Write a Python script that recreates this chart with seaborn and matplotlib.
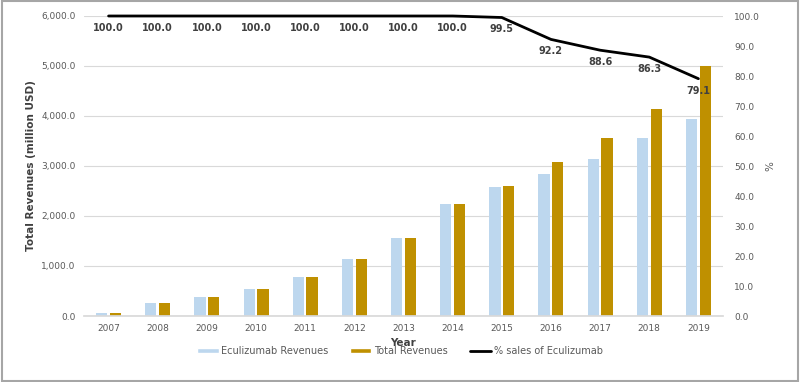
import matplotlib
matplotlib.use("Agg")
import matplotlib.pyplot as plt
from matplotlib.patches import Rectangle, Patch
from matplotlib.lines import Line2D
from matplotlib.ticker import FuncFormatter, MultipleLocator
import numpy as np
import pandas as pd
import seaborn as sns

years = ["2007", "2008", "2009", "2010", "2011", "2012", "2013",
         "2014", "2015", "2016", "2017", "2018", "2019"]
eculizumab_rev = [66, 259, 387, 541, 783, 1134, 1551, 2234, 2590, 2843, 3144, 3563, 3946]
total_rev = [66, 259, 387, 541, 783, 1134, 1551, 2234, 2604, 3084, 3551, 4131, 4991]
pct_sales = [100.0, 100.0, 100.0, 100.0, 100.0, 100.0, 100.0, 100.0, 99.5, 92.2, 88.6, 86.3, 79.1]

blue = "#BDD7EE"
gold = "#BF9000"
grey_txt = "#595959"

sns.set_theme(style="white")
plt.rcParams["font.family"] = ["DejaVu Sans"]

df = pd.DataFrame({
    "Year": years * 2,
    "Revenue": eculizumab_rev + total_rev,
    "Series": ["Eculizumab Revenues"] * len(years) + ["Total Revenues"] * len(years),
})

fig = plt.figure(figsize=(8, 3.82), dpi=100)
ax = fig.add_axes([84 / 800, 1 - 316 / 382, (723 - 84) / 800, 300 / 382])

# paired bars for the two revenue series
sns.barplot(data=df, x="Year", y="Revenue", hue="Series", saturation=1,
            palette=[blue, gold], width=0.56, gap=0.18, linewidth=0,
            ax=ax, legend=False)

ax.set_ylim(0, 6000)
ax.yaxis.set_major_locator(MultipleLocator(1000))
ax.yaxis.set_major_formatter(FuncFormatter(lambda v, p: f"{v:,.1f}"))
ax.grid(axis="y", color="#D9D9D9", linewidth=0.8)
ax.set_axisbelow(True)
for s in ["top", "right", "left"]:
    ax.spines[s].set_visible(False)
ax.spines["bottom"].set_color("#D9D9D9")
ax.tick_params(axis="both", length=0, labelsize=6.5, labelcolor=grey_txt, pad=6)
ax.set_xlabel("Year", fontsize=7.5, fontweight="bold", color="#404040", labelpad=3)
ax.set_ylabel("Total Revenues (million USD)", fontsize=7.5, fontweight="bold",
              color="#404040", labelpad=4)

# share line on the secondary axis
ax2 = ax.twinx()
sns.lineplot(x=np.arange(len(years)), y=pct_sales, color="black", linewidth=2,
             ax=ax2, clip_on=False)
ax2.set_ylim(0, 100)
ax.set_xlim(-0.5, len(years) - 0.5)
ax2.yaxis.set_major_locator(MultipleLocator(10))
ax2.yaxis.set_major_formatter(FuncFormatter(lambda v, p: f"{v:.1f}"))
for s in ax2.spines.values():
    s.set_visible(False)
ax2.tick_params(axis="y", length=0, labelsize=6.5, labelcolor=grey_txt, pad=8)
ax2.set_ylabel("%", fontsize=7.5, color=grey_txt, labelpad=4)
ax2.grid(False)

for i, v in enumerate(pct_sales):
    ax2.annotate(f"{v:.1f}", (i, v), xytext=(0, -12), textcoords="offset pixels",
                 ha="center", va="center", fontsize=7, fontweight="bold", color="#404040")

handles = [Patch(facecolor=blue, label="Eculizumab Revenues"),
           Patch(facecolor=gold, label="Total Revenues"),
           Line2D([0], [0], color="black", linewidth=2, label="% sales of Eculizumab")]
fig.legend(handles=handles, loc="center", bbox_to_anchor=(0.5, 1 - 351 / 382), ncol=3,
           frameon=False, fontsize=7, handlelength=2.2, handleheight=0.5,
           handletextpad=0.3, columnspacing=2.2, labelcolor=grey_txt)

fig.patches.append(Rectangle((0.002, 0.003), 0.996, 0.994, transform=fig.transFigure,
                             fill=False, edgecolor="#A6A6A6", linewidth=1.5))

fig.savefig("out.png", dpi=100)
